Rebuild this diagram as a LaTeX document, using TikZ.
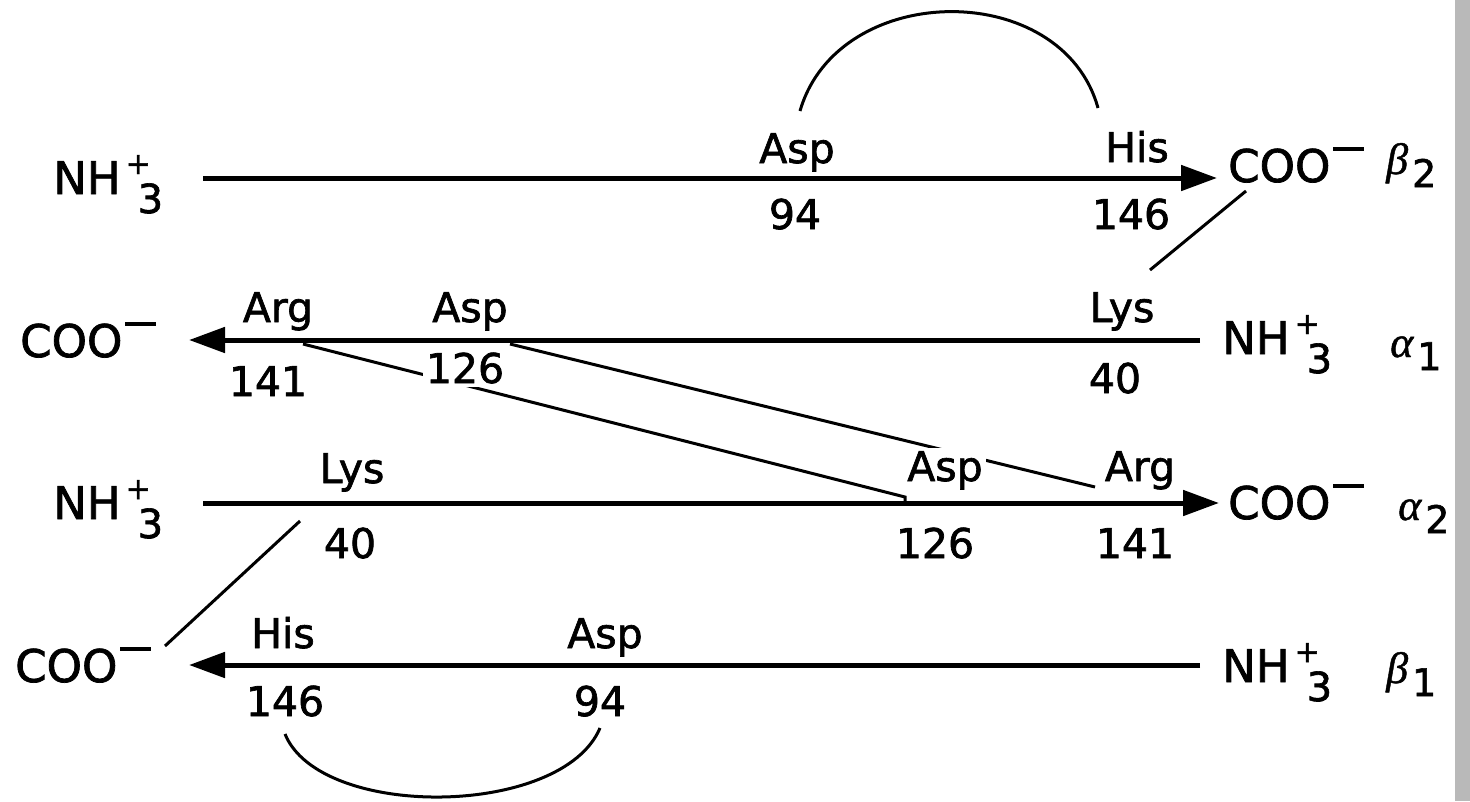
\documentclass[tikz,border=0pt]{standalone}
\usepackage{fontspec}
\setmainfont{DejaVu Sans}[FakeBold=1.6]
\newfontfamily\grk{Liberation Serif}[FakeBold=1]
\usetikzlibrary{arrows.meta}
\pgfdeclarelayer{bg}
\pgfsetlayers{bg,main}

% type sizes
\newcommand\termsz{\fontsize{45}{50}\selectfont}
\newcommand\ressz{\fontsize{41}{46}\selectfont}
% NH3+ terminus
\newcommand\nhterm{NH\kern5pt\rlap{\raisebox{20pt}{\fontsize{30}{30}\selectfont +}}\kern12pt\raisebox{-19pt}{\fontsize{40}{40}\selectfont 3}}
% COO- terminus
\newcommand\cooterm{COO\kern3pt\raisebox{31pt}{\rule{31pt}{3.8pt}}}
% chain symbols
\newcommand\chainsym[2]{{\grk\itshape #1}\kern4pt\raisebox{-13pt}{\fontsize{38}{38}\selectfont #2}}

\begin{document}
\begin{tikzpicture}[x=1pt,y=-1pt,
  strand/.style={line width=5pt,-{Triangle[length=36pt,width=25pt]}},
  contact/.style={line width=3pt},
  termtext/.style={inner sep=0pt,anchor=base west,font=\termsz},
  chaintext/.style={inner sep=0pt,anchor=base west,font=\fontsize{44}{48}\selectfont},
  restext/.style={inner sep=0pt,anchor=base,font=\ressz},
  cuttext/.style={restext,fill=white,inner sep=3pt}]
\useasboundingbox (0,0) rectangle (1470,801);

% ---- beta2 chain ----
\node[termtext] (nh1) at (53,194) {\nhterm};
\node[restext] (asp1) at (797,163) {Asp};
\node[restext] (n94a) at (795,229) {94};
\node[restext] (his1) at (1137,162) {His};
\node[restext] (n146a) at (1131,229) {146};
\node[termtext] (coo1) at (1228,182) {\cooterm};
\node[chaintext] (beta2) at (1386,174) {\chainsym{β}{2}};

% ---- alpha1 chain ----
\node[termtext] (coo2) at (20,357) {\cooterm};
\node[restext] (arg2) at (278,322) {Arg};
\node[restext] (n141b) at (268,396) {141};
\node[restext] (asp2) at (470,322) {Asp};
\node[cuttext] (n126b) at (465,383) {126};
\node[restext] (lys2) at (1122,322) {Lys};
\node[restext] (n40b) at (1115,393) {40};
\node[termtext] (nh2) at (1222,354) {\nhterm};
\node[chaintext] (alpha1) at (1390,357) {\chainsym{α}{1}};

% ---- alpha2 chain ----
\node[termtext] (nh3) at (53,519) {\nhterm};
\node[restext] (lys3) at (352,483) {Lys};
\node[restext] (n40c) at (350,558) {40};
\node[cuttext] (asp3) at (945,481) {Asp};
\node[restext] (n126c) at (935,558) {126};
\node[restext] (arg3) at (1140,481) {Arg};
\node[restext] (n141c) at (1135,558) {141};
\node[termtext] (coo3) at (1228,519) {\cooterm};
\node[chaintext] (alpha2) at (1398,520) {\chainsym{α}{2}};

% ---- beta1 chain ----
\node[termtext] (coo4) at (15,682) {\cooterm};
\node[restext] (his4) at (283,648) {His};
\node[restext] (n146d) at (285,716) {146};
\node[restext] (asp4) at (605,648) {Asp};
\node[restext] (n94d) at (600,716) {94};
\node[termtext] (nh4) at (1222,682) {\nhterm};
\node[chaintext] (beta1) at (1386,683) {\chainsym{β}{1}};

% ends of the backbone arrows
\coordinate (b1s) at (203,178);  \coordinate (b1e) at (1217,178);
\coordinate (a1s) at (1200,340); \coordinate (a1e) at (189,340);
\coordinate (a2s) at (203,503);  \coordinate (a2e) at (1219,503);
\coordinate (b2s) at (1200,665); \coordinate (b2e) at (189,665);

% ends of the salt-bridge lines
\coordinate (hb1) at (800,111);  \coordinate (hb2) at (1098,108);
\coordinate (hb3) at (285,734);  \coordinate (hb4) at (600,728);
\coordinate (ka) at (1246,191);  \coordinate (kb) at (1150,270);
\coordinate (kc) at (300,521);   \coordinate (kd) at (165,646);
\coordinate (ra) at (303,344);   \coordinate (rb) at (905,497);
\coordinate (rc) at (905,502);
\coordinate (da) at (510,344);   \coordinate (db) at (1095,487);

\begin{pgfonlayer}{bg}
  \fill[white] (0,0) rectangle (1470,801);
  \fill[gray!55] (1455,0) rectangle (1470,801);

  \draw[strand] (b1s) -- (b1e);
  \draw[strand] (a1s) -- (a1e);
  \draw[strand] (a2s) -- (a2e);
  \draw[strand] (b2s) -- (b2e);

  \draw[contact] (hb1) .. controls (838,-20) and (1062,-22) .. (hb2);
  \draw[contact] (hb3) .. controls (320,820) and (562,818) .. (hb4);
  \draw[contact] (ka) -- (kb);
  \draw[contact] (kc) -- (kd);
  \draw[contact] (ra) -- (rb) -- (rc);
  \draw[contact] (da) -- (db);
\end{pgfonlayer}
\end{tikzpicture}
\end{document}
